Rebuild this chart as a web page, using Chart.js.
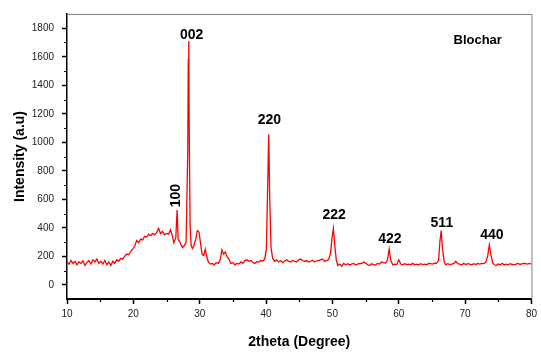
<!DOCTYPE html>
<html>
<head>
<meta charset="utf-8">
<script src="https://cdn.jsdelivr.net/npm/chart.js@4.4.1/dist/chart.umd.min.js"></script>
<style>
  html, body { margin: 0; padding: 0; background: #ffffff; }
  #wrap { width: 541px; height: 354px; }
</style>
</head>
<body>
<div id="wrap"><canvas id="c" width="541" height="354"></canvas></div>
<script>
// ---- data ----
const twoTheta = [
  10.0,10.3,10.6,10.9,11.2,11.5,11.8,12.1,12.4,12.7,13.0,13.3,13.6,13.9,14.2,14.5,14.8,15.1,15.4,15.7,
  16.0,16.3,16.6,16.9,17.2,17.5,17.8,18.1,18.4,18.7,19.0,19.3,19.6,19.9,20.2,20.5,20.8,21.1,21.4,21.7,
  22.0,22.3,22.6,22.9,23.2,23.5,23.8,24.1,24.4,24.7,25.0,25.3,25.6,25.9,26.1,26.4,26.6,26.75,27.0,27.4,
  27.7,27.95,28.2,28.28,28.35,28.42,28.55,28.7,28.9,29.1,29.4,29.65,29.9,30.1,30.35,30.6,30.85,31.05,31.3,31.6,
  31.9,32.2,32.5,32.8,33.1,33.35,33.6,33.85,34.1,34.4,34.7,35.0,35.3,35.6,35.9,36.2,36.5,36.8,37.1,37.4,
  37.7,38.0,38.3,38.6,38.9,39.2,39.5,39.8,40.05,40.25,40.4,40.55,40.75,41.0,41.3,41.6,41.9,42.2,42.5,42.8,
  43.1,43.4,43.7,44.0,44.3,44.6,44.9,45.2,45.5,45.8,46.1,46.4,46.7,47.0,47.3,47.6,47.9,48.2,48.5,48.8,
  49.1,49.4,49.7,49.95,50.15,50.35,50.6,50.85,51.1,51.4,51.7,52.0,52.3,52.6,52.9,53.2,53.5,53.8,54.1,54.4,
  54.7,55.0,55.3,55.6,55.9,56.2,56.5,56.8,57.1,57.4,57.7,58.0,58.3,58.55,58.8,59.1,59.4,59.7,60.0,60.3,
  60.6,60.9,61.2,61.5,61.8,62.1,62.4,62.7,63.0,63.3,63.6,63.9,64.2,64.5,64.8,65.1,65.4,65.7,66.0,66.2,
  66.4,66.6,66.85,67.1,67.4,67.7,68.0,68.3,68.6,68.9,69.2,69.5,69.8,70.1,70.4,70.7,71.0,71.3,71.6,71.9,
  72.2,72.5,72.8,73.1,73.4,73.65,73.9,74.15,74.4,74.7,75.0,75.3,75.6,75.9,76.2,76.5,76.8,77.1,77.4,77.7,
  78.0,78.3,78.6,79.0,79.4,79.7,80.0
];
const intensity = [
  160,145,170,150,165,140,160,150,168,135,155,170,145,175,160,180,150,165,145,170,
  140,160,135,165,150,175,165,185,180,200,215,210,235,250,270,310,295,320,315,340,
  335,355,345,360,350,365,395,360,375,350,360,355,385,340,295,330,525,320,300,260,
  275,300,930,1580,1710,1100,420,280,255,270,320,380,370,300,215,205,250,200,160,145,
  150,140,155,150,175,245,215,230,200,180,150,155,140,150,145,160,150,170,175,165,
  170,158,150,162,160,170,165,180,250,700,1055,620,260,185,165,175,160,170,155,165,
  175,165,160,170,165,160,175,180,170,165,168,160,165,172,160,168,170,175,180,165,
  170,175,215,330,395,280,170,135,145,130,150,140,148,138,145,150,140,145,150,148,
  160,152,140,135,148,142,138,150,145,160,155,152,175,250,170,140,145,142,175,145,
  140,148,142,145,140,150,140,145,138,148,142,145,140,150,148,145,152,150,170,300,
  380,250,160,140,148,142,145,150,165,148,145,140,150,142,148,145,140,148,142,150,
  145,150,148,155,200,280,210,155,140,135,145,140,150,138,145,140,148,142,140,145,
  150,142,148,150,145,150,145
];
const xTicks = [10, 20, 30, 40, 50, 60, 70, 80];
const xMinorTicks = [15, 25, 35, 45, 55, 65, 75];
const yTicks = [0, 200, 400, 600, 800, 1000, 1200, 1400, 1600, 1800];
const yMinorTicks = [100, 300, 500, 700, 900, 1100, 1300, 1500, 1700];
const peakLabels = ['100', '002', '220', '222', '422', '511', '440'];
const peakLabelX = [26.5, 28.78, 40.5, 50.26, 58.67, 66.5, 74.04];
const peakLabelY = [625, 1754, 1155, 486, 318, 432, 351];
const sampleName = 'Blochar';
const sampleNameX = 71.9;
const sampleNameY = 1712;
const xTitle = '2theta (Degree)';
const yTitle = 'Intensity (a.u)';

// ---- drawing ----
const FONT = "'Liberation Sans', Arial, sans-serif";

const extrasPlugin = {
  id: 'extras',
  afterDraw(chart) {
    const ctx = chart.ctx;
    const xs = chart.scales.x, ys = chart.scales.y;
    const a = chart.chartArea;
    ctx.save();
    // top & right frame
    ctx.strokeStyle = '#7f7f7f';
    ctx.lineWidth = 1;
    ctx.beginPath();
    ctx.moveTo(a.left, a.top + 0.5);
    ctx.lineTo(a.right + 0.5, a.top + 0.5);
    ctx.lineTo(a.right + 0.5, a.bottom);
    ctx.stroke();
    // minor ticks
    ctx.strokeStyle = '#000';
    ctx.lineWidth = 1.2;
    ctx.beginPath();
    yMinorTicks.forEach(v => {
      const p = Math.round(ys.getPixelForValue(v)) + 0.5;
      ctx.moveTo(a.left - 3, p);
      ctx.lineTo(a.left, p);
    });
    xMinorTicks.forEach(v => {
      const p = Math.round(xs.getPixelForValue(v)) + 0.5;
      ctx.moveTo(p, a.bottom);
      ctx.lineTo(p, a.bottom + 3);
    });
    ctx.stroke();
    // peak labels
    ctx.fillStyle = '#000';
    ctx.font = 'bold 14px ' + FONT;
    ctx.textAlign = 'center';
    ctx.textBaseline = 'middle';
    peakLabels.forEach((t, i) => {
      const px = xs.getPixelForValue(peakLabelX[i]);
      const py = ys.getPixelForValue(peakLabelY[i]);
      if (i === 0) {
        ctx.save();
        ctx.translate(px, py);
        ctx.rotate(-Math.PI / 2);
        ctx.fillText(t, 0, 0);
        ctx.restore();
      } else {
        ctx.fillText(t, px, py);
      }
    });
    ctx.font = 'bold 13px ' + FONT;
    ctx.fillText(sampleName, xs.getPixelForValue(sampleNameX), ys.getPixelForValue(sampleNameY));
    ctx.restore();
  }
};

new Chart(document.getElementById('c'), {
  type: 'line',
  data: {
    datasets: [{
      data: twoTheta.map((x, i) => ({ x: x, y: intensity[i] })),
      borderColor: '#ff0000',
      borderWidth: 1.3,
      pointRadius: 0,
      tension: 0,
      fill: false
    }]
  },
  options: {
    responsive: false,
    animation: false,
    devicePixelRatio: 1,
    layout: { padding: { left: 0, right: 8, top: 10, bottom: 0 } },
    plugins: { legend: { display: false }, tooltip: { enabled: false } },
    scales: {
      x: {
        type: 'linear',
        min: 10, max: 80,
        afterBuildTicks: s => { s.ticks = xTicks.map(v => ({ value: v })); },
        afterFit: s => { s.height = 55; },
        grid: { drawOnChartArea: false, drawTicks: true, tickLength: 5, tickColor: '#000', tickWidth: 1.5 },
        border: { display: true, color: '#000', width: 2 },
        ticks: { color: '#222', font: { family: FONT, size: 10 }, padding: 4, maxRotation: 0, autoSkip: false, callback: v => String(v) },
        title: { display: true, text: xTitle, color: '#000', font: { family: FONT, size: 14, weight: 'bold' }, padding: { top: 0, bottom: 3 } }
      },
      y: {
        type: 'linear',
        min: -100, max: 1900,
        afterBuildTicks: s => { s.ticks = yTicks.map(v => ({ value: v })); },
        afterFit: s => { s.width = 67; },
        grid: { drawOnChartArea: false, drawTicks: true, tickLength: 5, tickColor: '#000', tickWidth: 1.5 },
        border: { display: true, color: '#000', width: 1.5 },
        ticks: { color: '#222', font: { family: FONT, size: 10 }, padding: 8, autoSkip: false, callback: v => String(v) },
        title: { display: true, text: yTitle, color: '#000', font: { family: FONT, size: 14, weight: 'bold' }, padding: { top: 12, bottom: 0 } }
      }
    }
  },
  plugins: [extrasPlugin]
});
</script>
</body>
</html>
